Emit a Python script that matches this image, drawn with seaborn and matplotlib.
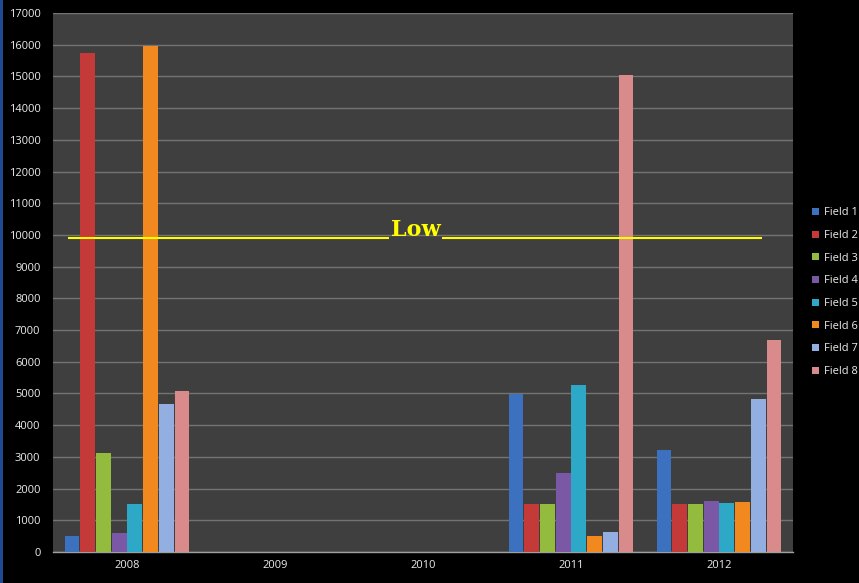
import matplotlib
matplotlib.use("Agg")
import matplotlib.pyplot as plt
import seaborn as sns
import pandas as pd
from matplotlib.patches import Rectangle

years = ["2008", "2009", "2010", "2011", "2012"]
fields = ["Field 1", "Field 2", "Field 3", "Field 4", "Field 5", "Field 6", "Field 7", "Field 8"]
field1 = [500, 0, 0, 4980, 3210]
field2 = [15750, 0, 0, 1520, 1520]
field3 = [3130, 0, 0, 1500, 1500]
field4 = [600, 0, 0, 2490, 1600]
field5 = [1500, 0, 0, 5280, 1550]
field6 = [15950, 0, 0, 490, 1580]
field7 = [4680, 0, 0, 630, 4820]
field8 = [5070, 0, 0, 15050, 6680]
series = [field1, field2, field3, field4, field5, field6, field7, field8]
colors = ["#3c71c0", "#c33a38", "#93bb3d", "#7b58a5", "#2ea8c7", "#f2891f", "#93aee0", "#d98b8b"]
low_value = 9900
low_label = "Low"

rows = []
for f, vals in zip(fields, series):
    for y, v in zip(years, vals):
        rows.append({"Year": y, "Field": f, "Value": v})
df = pd.DataFrame(rows)

sns.set_style("dark")
fig = plt.figure(figsize=(8.59, 5.83), dpi=100, facecolor="black")
ax = fig.add_axes([53 / 859, 1 - 552 / 583, (793 - 53) / 859, (552 - 13) / 583])
ax.set_facecolor("#3f3f3f")

sns.barplot(data=df, x="Year", y="Value", hue="Field", order=years, hue_order=fields,
            palette=colors, width=0.85, gap=0.06, linewidth=0, saturation=1, ax=ax,
            errorbar=None, zorder=3)

ax.set_ylim(0, 17000)
ax.set_xlim(-0.5, 4.5)
ax.set_yticks(range(0, 17001, 1000))
ax.yaxis.grid(True, color="#737373", linewidth=1.0, zorder=0)
ax.xaxis.grid(False)
ax.set_axisbelow(True)
ax.set_xlabel("")
ax.set_ylabel("")
for s in ["top", "right"]:
    ax.spines[s].set_visible(False)
ax.spines["left"].set_visible(False)
ax.spines["bottom"].set_color("#a0a0a0")
ax.spines["bottom"].set_linewidth(1)
ax.tick_params(axis="y", colors="#ececec", labelsize=8, length=5, width=1, direction="out", pad=4)
ax.tick_params(axis="y", color="#808080")
ax.tick_params(axis="x", colors="#ececec", labelsize=8, length=0, pad=6)
ax.set_xticks(range(len(years)))
ax.set_xticklabels(years)
ax.set_xticks([i - 0.5 for i in range(len(years) + 1)], minor=True)
ax.tick_params(axis="x", which="minor", length=5, color="#a0a0a0", width=1)
for lab in ax.get_yticklabels() + ax.get_xticklabels():
    lab.set_fontfamily("Open Sans")

# Low threshold line with label
ax.hlines(low_value, -0.40, 1.77, color="#ffff00", linewidth=1.5, zorder=5)
ax.hlines(low_value, 2.13, 4.29, color="#ffff00", linewidth=1.5, zorder=5)
ax.text(1.95, low_value + 70, low_label, color="#ffff00", fontsize=16, fontweight="bold",
        family="DejaVu Serif", ha="center", va="baseline", zorder=6)

leg = ax.legend(loc="center left", bbox_to_anchor=(1.02, 0.482), frameon=False,
                fontsize=8, labelcolor="#ececec", handlelength=0.6, handleheight=0.6,
                handletextpad=0.5, labelspacing=1.05, borderaxespad=0)
for t in leg.get_texts():
    t.set_fontfamily("Open Sans")

fig.patches.append(Rectangle((0, 0), 3 / 859, 1, transform=fig.transFigure,
                             facecolor="#1f4a94", edgecolor="none"))

fig.savefig("out.png", dpi=100, facecolor="black")
